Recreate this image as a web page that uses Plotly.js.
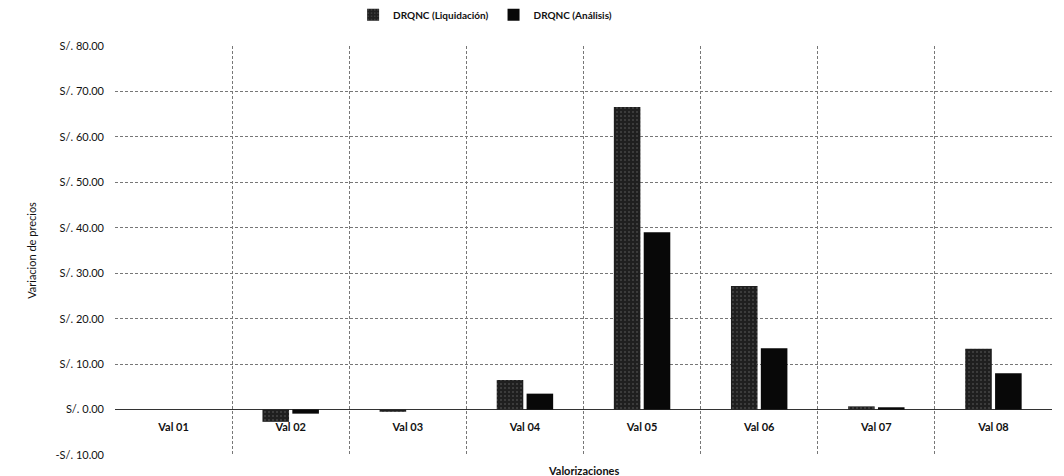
<!DOCTYPE html>
<html>
<head>
<meta charset="utf-8">
<script src="https://cdn.plot.ly/plotly-3.0.1.min.js"></script>
<style>html,body{margin:0;padding:0;background:#fff;}#chart{width:1064px;height:476px;}</style>
</head>
<body>
<div id="chart"></div>
<script>
const categories = ["Val 01","Val 02","Val 03","Val 04","Val 05","Val 06","Val 07","Val 08"];
const liquidacion = [0, -2.7, -0.5, 6.5, 66.6, 27.2, 0.7, 13.4];
const analisis = [0, -0.9, 0, 3.5, 39.0, 13.5, 0.5, 8.0];
const seriesNames = ["DRQNC (Liquidación)", "DRQNC (Análisis)"];
const yTickVals = [-10, 0, 10, 20, 30, 40, 50, 60, 70, 80];
const yTickText = ["-S/. 10.00","S/. 0.00","S/. 10.00","S/. 20.00","S/. 30.00","S/. 40.00","S/. 50.00","S/. 60.00","S/. 70.00","S/. 80.00"];

const font = "Lato, 'Open Sans', sans-serif";
const traces = [
  {type:'bar', name:seriesNames[0], x:categories, y:liquidacion,
   marker:{color:'#1f1f1f', pattern:{shape:'.', bgcolor:'#1f1f1f', fgcolor:'#6a6a6a', size:4, solidity:0.2, fillmode:'overlay'},
           line:{width:0}}},
  {type:'bar', name:seriesNames[1], x:categories, y:analisis,
   marker:{color:'#080808', line:{width:0}}}
];
const layout = {
  width:1064, height:476,
  margin:{l:114.5, r:12.3, t:45.7, b:21, autoexpand:false},
  paper_bgcolor:'#fff', plot_bgcolor:'#fff',
  font:{family:font, color:'#111', size:10},
  barmode:'group', bargap:0.49, bargroupgap:0.11,
  showlegend:true,
  legend:{orientation:'h', x:0.395, xanchor:'center', y:1.112, yanchor:'top',
          font:{family:font, size:10, color:'#111', weight:'bold'}, itemwidth:20, tracegroupgap:0},
  xaxis:{type:'category', tickson:'boundaries', showgrid:true, gridcolor:'#777', griddash:'3px,2px', gridwidth:1,
         ticks:'', showline:false, anchor:'free', position:10/90, ticklabelstandoff:9,
         tickfont:{family:font, size:11, color:'#111', weight:'bold'}, range:[-0.5,7.5], fixedrange:true},
  yaxis:{range:[-10,80], tickvals:yTickVals, ticktext:yTickText, showgrid:true, gridcolor:'#777', griddash:'3px,2px',
         gridwidth:1, zeroline:true, zerolinecolor:'#333', zerolinewidth:1.5, showline:false, ticks:'',
         ticklabelstandoff:10,
         tickfont:{family:font, size:11, color:'#111'},
         title:{text:'Variacion de precios', font:{family:font, size:11, color:'#111'}, standoff:16}},
  annotations:[
    {text:'Valorizaciones', xref:'paper', yref:'paper', x:0.5, y:0, yanchor:'top', yshift:-7, showarrow:false,
     font:{family:font, size:11, color:'#111', weight:'bold'}}
  ]
};
Plotly.newPlot('chart', traces, layout, {displayModeBar:false, staticPlot:true});
</script>
</body>
</html>
